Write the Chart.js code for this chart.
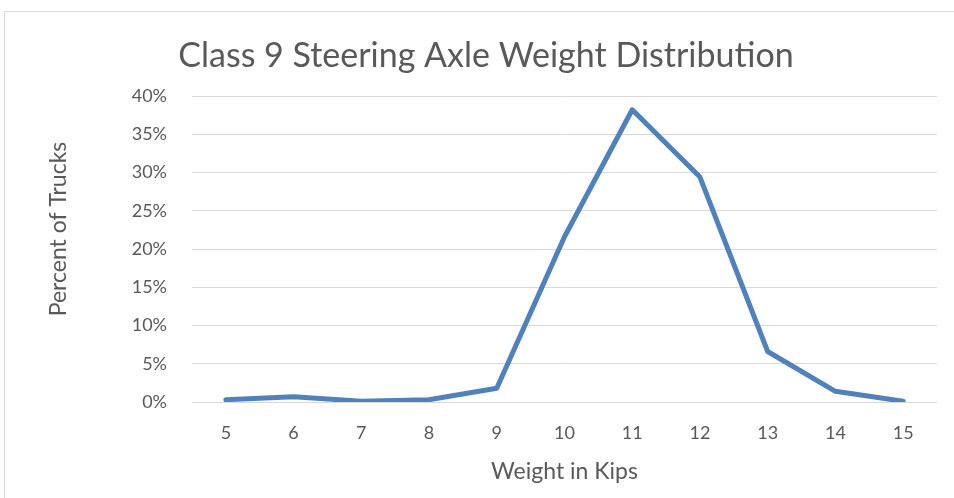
<!DOCTYPE html>
<html>
<head>
<meta charset="utf-8">
<script src="https://cdn.jsdelivr.net/npm/chart.js@4/dist/chart.umd.min.js"></script>
<style>
  html, body { margin: 0; padding: 0; background: #ffffff; }
  #wrap { width: 954px; height: 498px; position: relative; }
</style>
</head>
<body>
<div id="wrap"><canvas id="chart" width="954" height="498"></canvas></div>
<script>
// Steering axle weight bins (kips) and share of trucks in each bin (%)
const weightKips = ['5', '6', '7', '8', '9', '10', '11', '12', '13', '14', '15'];
const percentTrucks = [0.3, 0.7, 0.1, 0.3, 1.8, 21.6, 38.2, 29.4, 6.6, 1.4, 0.1];
const yTicks = [0, 5, 10, 15, 20, 25, 30, 35, 40];

const chartTitle = 'Class 9 Steering Axle Weight Distribution';
const yAxisTitle = 'Percent of Trucks';
const xAxisTitle = 'Weight in Kips';

const textColor = '#595959';
const fontFamily = 'Lato, "Open Sans", sans-serif';

// Thin frame around the chart, plus the chart title and the vertical axis title
const framePlugin = {
  id: 'frame',
  beforeDraw(chart) {
    const ctx = chart.ctx;
    ctx.save();
    ctx.fillStyle = '#ffffff';
    ctx.fillRect(0, 0, chart.width, chart.height);
    ctx.strokeStyle = '#d9d9d9';
    ctx.lineWidth = 1;
    ctx.strokeRect(4.5, 11.5, chart.width + 20, chart.height + 20);
    ctx.restore();
  },
  afterDraw(chart) {
    const ctx = chart.ctx;
    const area = chart.chartArea;
    ctx.save();
    ctx.fillStyle = textColor;
    ctx.textAlign = 'center';
    ctx.textBaseline = 'middle';
    ctx.font = '34px ' + fontFamily;
    ctx.fillText(chartTitle, 486, 56);
    ctx.translate(59, (area.top + area.bottom) / 2 - 20);
    ctx.rotate(-Math.PI / 2);
    ctx.font = '23px ' + fontFamily;
    ctx.fillText(yAxisTitle, 0, 0);
    ctx.restore();
  }
};

new Chart(document.getElementById('chart'), {
  type: 'line',
  data: {
    labels: weightKips,
    datasets: [{
      data: percentTrucks,
      borderColor: '#4F81BD',
      backgroundColor: '#4F81BD',
      borderWidth: 5,
      pointRadius: 0,
      borderCapStyle: 'round',
      borderJoinStyle: 'round',
      tension: 0,
      fill: false
    }]
  },
  options: {
    responsive: false,
    animation: false,
    devicePixelRatio: 1,
    layout: { padding: { left: 0, right: 17, top: 96, bottom: 0 } },
    plugins: {
      legend: { display: false },
      tooltip: { enabled: false },
      title: { display: false }
    },
    scales: {
      x: {
        offset: true,
        grid: { display: false, drawTicks: false, offset: true },
        border: { display: false },
        ticks: {
          color: textColor,
          font: { family: fontFamily, size: 18 },
          padding: 20,
          maxRotation: 0
        },
        title: {
          display: true,
          text: xAxisTitle,
          color: textColor,
          font: { family: fontFamily, size: 23, lineHeight: 1.2 },
          padding: { top: 0, bottom: 13 }
        },
        afterFit(scale) { scale.height = 96; }
      },
      y: {
        min: 0,
        max: 40,
        afterBuildTicks(scale) { scale.ticks = yTicks.map(v => ({ value: v })); },
        grid: { color: '#d9d9d9', lineWidth: 1, drawTicks: false },
        border: { display: false },
        ticks: {
          color: textColor,
          font: { family: fontFamily, size: 18 },
          padding: 25,
          callback: v => v + '%'
        },
        title: { display: false },
        afterFit(scale) { scale.width = 192; }
      }
    }
  },
  plugins: [framePlugin]
});
</script>
</body>
</html>
